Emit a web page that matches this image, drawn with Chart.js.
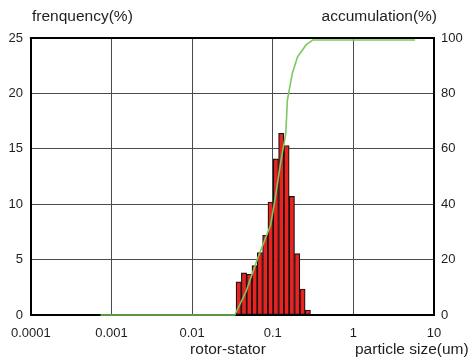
<!DOCTYPE html>
<html>
<head>
<meta charset="utf-8">
<script src="https://cdn.jsdelivr.net/npm/chart.js@4/dist/chart.umd.min.js"></script>
<style>
  html, body { margin: 0; padding: 0; background: #ffffff; }
  #wrap { width: 472px; height: 360px; position: relative; }
</style>
</head>
<body>
<div id="wrap"><canvas id="chart"></canvas></div>
<script>
// Particle size bins (geometric bin centres, um) and frequency per bin (%)
const binCenters = [0.0378, 0.0440, 0.0512, 0.0596, 0.0693, 0.0807, 0.0940,
                    0.1094, 0.1274, 0.1483, 0.1726, 0.2009, 0.2339, 0.2723];
const frequency  = [3.0, 3.8, 3.67, 4.45, 5.63, 7.2, 10.2,
                    14.1, 16.4, 15.3, 10.7, 5.55, 2.35, 0.45];

// Cumulative distribution (%) against particle size (um)
const accumSizes  = [0.00073, 0.0338, 0.0465, 0.0661, 0.0941, 0.108, 0.125,
                     0.145, 0.152, 0.175, 0.203, 0.259, 0.314, 5.8];
const accumValues = [0, 0, 8.4, 21.0, 32.5, 42.7, 54.8,
                     65.6, 77.6, 87.3, 93.2, 97.5, 99.3, 99.3];

// Axis ticks
const sizeTicks      = [0.0001, 0.001, 0.01, 0.1, 1, 10];
const sizeTickLabels = ['0.0001', '0.001', '0.01', '0.1', '1', '10'];
const freqTicks      = [0, 5, 10, 15, 20, 25];
const accumTicks     = [0, 20, 40, 60, 80, 100];

const TEXT = '#1e1e1e';
const FONT = '"Liberation Sans", Arial, sans-serif';

// Frame top edge and the free-standing captions
const captions = {
  id: 'captions',
  afterDraw(chart) {
    const { ctx, chartArea: a } = chart;
    ctx.save();
    ctx.strokeStyle = '#000';
    ctx.lineWidth = 2;
    ctx.beginPath();
    ctx.moveTo(a.left - 1, a.top);
    ctx.lineTo(a.right + 1, a.top);
    ctx.stroke();

    ctx.fillStyle = TEXT;
    ctx.font = '15.5px ' + FONT;
    ctx.textBaseline = 'middle';
    ctx.textAlign = 'left';
    ctx.fillText('frenquency(%)', 32, 17);
    ctx.textAlign = 'right';
    ctx.fillText('accumulation(%)', 437, 17);
    ctx.textAlign = 'center';
    ctx.fillText('rotor-stator', 228, 350);
    ctx.textAlign = 'left';
    ctx.fillText('particle size(um)', 355, 350);
    ctx.restore();
  }
};

new Chart(document.getElementById('chart'), {
  type: 'bar',
  data: {
    datasets: [
      {
        type: 'line',
        label: 'accumulation',
        data: accumSizes.map((x, i) => ({ x, y: accumValues[i] })),
        yAxisID: 'y2',
        borderColor: '#7cc95c',
        borderWidth: 1.6,
        pointRadius: 0,
        tension: 0,
        clip: false,
        order: 0
      },
      {
        type: 'bar',
        label: 'frequency',
        data: binCenters.map((x, i) => ({ x, y: frequency[i] })),
        yAxisID: 'y',
        backgroundColor: '#ec2220',
        borderColor: '#111',
        borderWidth: 1.2,
        borderSkipped: false,
        barPercentage: 1,
        categoryPercentage: 1,
        order: 1
      }
    ]
  },
  options: {
    responsive: true,
    maintainAspectRatio: false,
    animation: false,
    layout: { padding: { top: 38, left: 0, right: 0, bottom: 0 } },
    plugins: {
      legend: { display: false },
      tooltip: { enabled: false }
    },
    scales: {
      x: {
        type: 'logarithmic',
        position: 'bottom',
        min: 0.0001,
        max: 10,
        offset: false,
        afterBuildTicks: s => { s.ticks = sizeTicks.map(v => ({ value: v })); },
        afterFit: s => { s.height = 45; },
        ticks: {
          autoSkip: false,
          maxRotation: 0,
          padding: 11,
          color: TEXT,
          font: { family: FONT, size: 13 },
          callback: (v, i) => sizeTickLabels[i]
        },
        grid: { color: '#4a4a4a', lineWidth: 1, drawTicks: false, offset: false },
        border: { color: '#000', width: 2 }
      },
      y: {
        position: 'left',
        min: 0,
        max: 25,
        afterBuildTicks: s => { s.ticks = freqTicks.map(v => ({ value: v })); },
        afterFit: s => { s.width = 30; },
        ticks: {
          padding: 8,
          color: TEXT,
          font: { family: FONT, size: 13 }
        },
        grid: { color: '#4a4a4a', lineWidth: 1, drawTicks: false },
        border: { color: '#000', width: 2 }
      },
      y2: {
        position: 'right',
        min: 0,
        max: 100,
        afterBuildTicks: s => { s.ticks = accumTicks.map(v => ({ value: v })); },
        afterFit: s => { s.width = 38; },
        ticks: {
          padding: 7,
          color: TEXT,
          font: { family: FONT, size: 13 }
        },
        grid: { drawOnChartArea: false, drawTicks: false },
        border: { color: '#000', width: 2 }
      }
    }
  },
  plugins: [captions]
});
</script>
</body>
</html>
